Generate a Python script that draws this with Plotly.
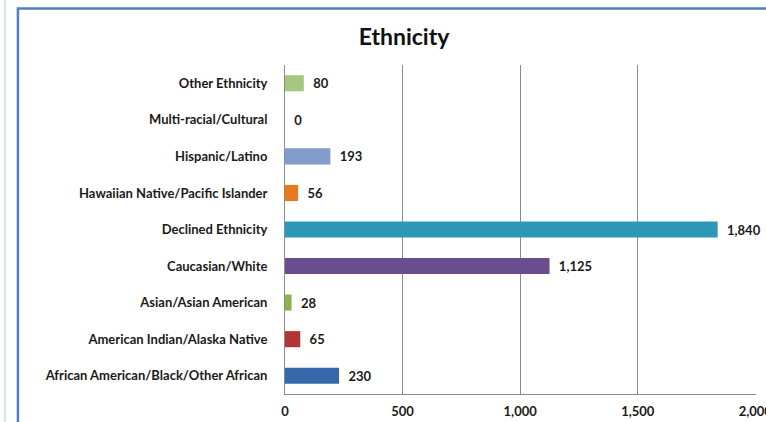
import plotly.graph_objects as go

# Ethnicity counts, listed bottom-to-top as they appear on the chart
categories = [
    "African American/Black/Other African",
    "American Indian/Alaska Native",
    "Asian/Asian American",
    "Caucasian/White",
    "Declined Ethnicity",
    "Hawaiian Native/Pacific Islander",
    "Hispanic/Latino",
    "Multi-racial/Cultural",
    "Other Ethnicity",
]
counts = [230, 65, 28, 1125, 1840, 56, 193, 0, 80]
bar_colors = [
    "#3767ab", "#b23434", "#8cb24a", "#6a4d8c", "#2c98b6",
    "#e8791f", "#819ccd", "#a66fa8", "#a6c77f",
]
x_ticks = [0, 500, 1000, 1500, 2000]
x_tick_text = ["0", "500", "1,000", "1,500", "2,000"]

FONT = "Lato"

fig = go.Figure(
    go.Bar(
        x=counts,
        y=categories,
        orientation="h",
        width=0.44,
        marker=dict(color=bar_colors, line=dict(width=0)),
        text=counts,
        texttemplate="  %{x:,}",
        textposition="outside",
        textfont=dict(family=FONT, size=13, color="#1a1a1a", weight="bold"),
        cliponaxis=False,
        hoverinfo="skip",
    )
)

# page rule on the far left and the blue chart frame
fig.add_shape(type="line", xref="paper", yref="paper",
              x0=-0.5945, x1=-0.5945, y0=-0.1, y1=1.2,
              line=dict(color="#c9daf0", width=1.5))
fig.add_shape(type="rect", xref="paper", yref="paper",
              x0=-0.567, x1=1.2, y0=-0.2, y1=1.172,
              line=dict(color="#4f7fc0", width=2.5), fillcolor="rgba(0,0,0,0)")

fig.update_layout(
    width=766,
    height=422,
    margin=dict(l=285, r=10, t=65, b=28, autoexpand=False),
    paper_bgcolor="white",
    plot_bgcolor="white",
    showlegend=False,
    font=dict(family=FONT, size=13, color="#1a1a1a"),
    title=dict(
        text="<b>Ethnicity</b>",
        font=dict(family=FONT, size=23, color="#111111"),
        x=404 / 766, xref="container", xanchor="center",
        y=1 - 37 / 422, yref="container", yanchor="middle",
    ),
    xaxis=dict(
        range=[0, 2003],
        tickvals=x_ticks,
        ticktext=x_tick_text,
        tickfont=dict(family=FONT, size=13, color="#1a1a1a", weight="bold"),
        ticklabeloverflow="allow",
        automargin=False,
        showgrid=True,
        gridcolor="#8c8c8c",
        gridwidth=1,
        zeroline=False,
        showline=True,
        linecolor="#8c8c8c",
        linewidth=1,
        ticks="outside",
        ticklen=5,
        tickcolor="rgba(0,0,0,0)",
        fixedrange=True,
    ),
    yaxis=dict(
        categoryorder="array",
        categoryarray=categories,
        tickfont=dict(family=FONT, size=13, color="#1a1a1a", weight="bold"),
        automargin=False,
        showgrid=False,
        zeroline=False,
        showline=True,
        linecolor="#8c8c8c",
        linewidth=1,
        ticks="outside",
        ticklen=8,
        tickcolor="rgba(0,0,0,0)",
        ticklabelstandoff=6,
        fixedrange=True,
    ),
)

fig.write_html("out.html")
